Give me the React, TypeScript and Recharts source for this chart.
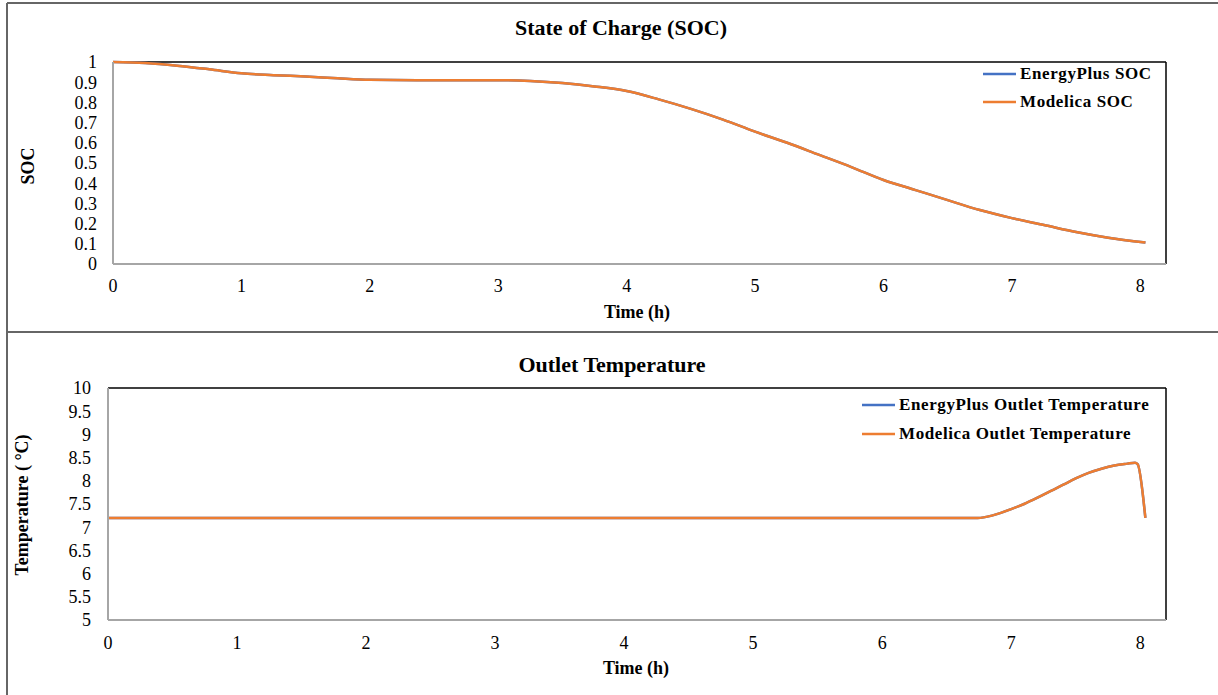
import React from 'react';
import { LineChart, Line, XAxis, YAxis, ReferenceLine, Legend } from 'recharts';

// ---- SOC panel data ----
const socTime = [0, 0.25, 0.5, 0.75, 1.0, 1.25, 1.5, 1.75, 2.0, 2.5, 3.0, 3.25, 3.5, 3.75, 4.0, 4.25, 4.5, 4.75, 5.0, 5.25, 5.5, 5.75, 6.0, 6.25, 6.5, 6.75, 7.0, 7.25, 7.5, 7.75, 8.04];
const energyPlusSoc = [1.0, 0.995, 0.982, 0.964, 0.944, 0.935, 0.928, 0.919, 0.912, 0.91, 0.91, 0.906, 0.896, 0.879, 0.856, 0.815, 0.768, 0.715, 0.655, 0.6, 0.54, 0.48, 0.416, 0.366, 0.316, 0.267, 0.227, 0.193, 0.158, 0.13, 0.106];
const modelicaSoc = [1.0, 0.995, 0.982, 0.964, 0.944, 0.935, 0.928, 0.919, 0.912, 0.91, 0.91, 0.906, 0.896, 0.879, 0.856, 0.815, 0.768, 0.715, 0.655, 0.6, 0.54, 0.48, 0.416, 0.366, 0.316, 0.267, 0.227, 0.193, 0.158, 0.13, 0.106];
const socTicks = [0, 0.1, 0.2, 0.3, 0.4, 0.5, 0.6, 0.7, 0.8, 0.9, 1];

// ---- Outlet temperature panel data ----
const tempTime = [0, 1, 2, 3, 4, 5, 6, 6.74, 6.85, 6.92, 7.0, 7.1, 7.2, 7.3, 7.4, 7.5, 7.6, 7.7, 7.8, 7.9, 7.96, 7.98, 8.04];
const energyPlusTemp = [7.2, 7.2, 7.2, 7.2, 7.2, 7.2, 7.2, 7.2, 7.25, 7.31, 7.39, 7.5, 7.63, 7.77, 7.91, 8.05, 8.17, 8.26, 8.33, 8.37, 8.39, 8.36, 7.2];
const modelicaTemp = [7.2, 7.2, 7.2, 7.2, 7.2, 7.2, 7.2, 7.2, 7.25, 7.31, 7.39, 7.5, 7.63, 7.77, 7.91, 8.05, 8.17, 8.26, 8.33, 8.37, 8.39, 8.36, 7.2];
const tempTicks = [5, 5.5, 6, 6.5, 7, 7.5, 8, 8.5, 9, 9.5, 10];

const timeTicks = [0, 1, 2, 3, 4, 5, 6, 7, 8];

const socData = socTime.map((t, i) => ({ t, ep: energyPlusSoc[i], mo: modelicaSoc[i] }));
const tempData = tempTime.map((t, i) => ({ t, ep: energyPlusTemp[i], mo: modelicaTemp[i] }));

const FONT = '"Liberation Serif", "Times New Roman", serif';
const BLUE = '#4472C4';
const ORANGE = '#ED7D31';
const AXIS_GRAY = '#A6A6A6';

const legendContent = (rowH: number) => (props: any) => {
  const payload = props.payload || [];
  return (
    <div style={{ fontFamily: FONT }}>
      {payload.map((p: any, i: number) => (
        <div key={i} style={{ display: 'flex', alignItems: 'center', height: rowH }}>
          <svg width={34} height={6} style={{ marginRight: 3 }}>
            <line x1={0} y1={3} x2={33} y2={3} stroke={p.color} strokeWidth={2.5} />
          </svg>
          <span style={{ fontSize: 17, fontWeight: 'bold', letterSpacing: 0.6, color: '#000', whiteSpace: 'nowrap' }}>{p.value}</span>
        </div>
      ))}
    </div>
  );
};

const tickStyle = { fontFamily: FONT, fontSize: 18, fill: '#000' };

export default function App() {
  return (
    <div style={{ position: 'absolute', left: 0, top: 0, width: 1218, height: 695, background: '#fff', overflow: 'hidden' }}>
      <div style={{ position: 'absolute', left: 0, top: 0 }}>
        <LineChart width={1218} height={330} data={socData} margin={{ top: 62, right: 52, bottom: 36, left: 0 }}>
          <XAxis
            type="number"
            dataKey="t"
            domain={[0, 8.2]}
            ticks={timeTicks}
            interval={0}
            allowDataOverflow
            height={30}
            tickLine={false}
            tickSize={0}
            tickMargin={15}
            axisLine={{ stroke: AXIS_GRAY, strokeWidth: 2 }}
            tick={tickStyle}
          />
          <YAxis
            type="number"
            domain={[0, 1]}
            ticks={socTicks}
            interval={0}
            width={113}
            tickLine={false}
            tickSize={0}
            tickMargin={16}
            axisLine={{ stroke: AXIS_GRAY, strokeWidth: 2 }}
            tick={tickStyle}
          />
          <ReferenceLine y={1} stroke="#000" strokeWidth={1.5} />
          <ReferenceLine x={8.2} stroke="#000" strokeWidth={1.5} />
          <Legend
            layout="vertical"
            align="center"
            verticalAlign="middle"
            wrapperStyle={{ position: 'absolute', top: 60, left: 983, width: 200 }}
            content={legendContent(28)}
          />
          <Line type="monotone" dataKey="ep" name="EnergyPlus SOC" stroke={BLUE} strokeWidth={2.5} dot={false} isAnimationActive={false} />
          <Line type="monotone" dataKey="mo" name="Modelica SOC" stroke={ORANGE} strokeWidth={2.5} dot={false} isAnimationActive={false} />
        </LineChart>
      </div>
      <div style={{ position: 'absolute', left: 0, top: 332 }}>
        <LineChart width={1218} height={363} data={tempData} margin={{ top: 56, right: 52, bottom: 45, left: 0 }}>
          <XAxis
            type="number"
            dataKey="t"
            domain={[0, 8.2]}
            ticks={timeTicks}
            interval={0}
            allowDataOverflow
            height={30}
            tickLine={false}
            tickSize={0}
            tickMargin={16}
            axisLine={{ stroke: AXIS_GRAY, strokeWidth: 2 }}
            tick={tickStyle}
          />
          <YAxis
            type="number"
            domain={[5, 10]}
            ticks={tempTicks}
            interval={0}
            width={108}
            tickLine={false}
            tickSize={0}
            tickMargin={17}
            axisLine={{ stroke: AXIS_GRAY, strokeWidth: 2 }}
            tick={tickStyle}
          />
          <ReferenceLine y={10} stroke="#000" strokeWidth={1.5} />
          <ReferenceLine x={8.2} stroke="#000" strokeWidth={1.5} />
          <Legend
            layout="vertical"
            align="center"
            verticalAlign="middle"
            wrapperStyle={{ position: 'absolute', top: 58, left: 862, width: 320 }}
            content={legendContent(29)}
          />
          <Line type="monotone" dataKey="ep" name="EnergyPlus Outlet Temperature" stroke={BLUE} strokeWidth={2.5} dot={false} isAnimationActive={false} />
          <Line type="monotone" dataKey="mo" name="Modelica Outlet Temperature" stroke={ORANGE} strokeWidth={2.5} dot={false} isAnimationActive={false} />
        </LineChart>
      </div>
      <svg width={1218} height={695} style={{ position: 'absolute', left: 0, top: 0, pointerEvents: 'none' }}>
        <line x1={7} y1={3} x2={1218} y2={3} stroke="#666" strokeWidth={2} />
        <line x1={7} y1={332} x2={1218} y2={332} stroke="#666" strokeWidth={2} />
        <line x1={7} y1={3} x2={7} y2={695} stroke="#666" strokeWidth={2} />
        <text x={621} y={27} textAnchor="middle" dominantBaseline="central" fontFamily={FONT} fontSize={22} fontWeight="bold">State of Charge (SOC)</text>
        <text x={612} y={364} textAnchor="middle" dominantBaseline="central" fontFamily={FONT} fontSize={22} fontWeight="bold">Outlet Temperature</text>
        <text x={637} y={312} textAnchor="middle" dominantBaseline="central" fontFamily={FONT} fontSize={18} fontWeight="bold">Time (h)</text>
        <text x={636} y={668} textAnchor="middle" dominantBaseline="central" fontFamily={FONT} fontSize={18} fontWeight="bold">Time (h)</text>
        <text transform="translate(28,166) rotate(-90)" textAnchor="middle" dominantBaseline="central" fontFamily={FONT} fontSize={18} fontWeight="bold">SOC</text>
        <text transform="translate(22,505) rotate(-90)" textAnchor="middle" dominantBaseline="central" fontFamily={FONT} fontSize={18} fontWeight="bold">Temperature ( °C)</text>
      </svg>
    </div>
  );
}
